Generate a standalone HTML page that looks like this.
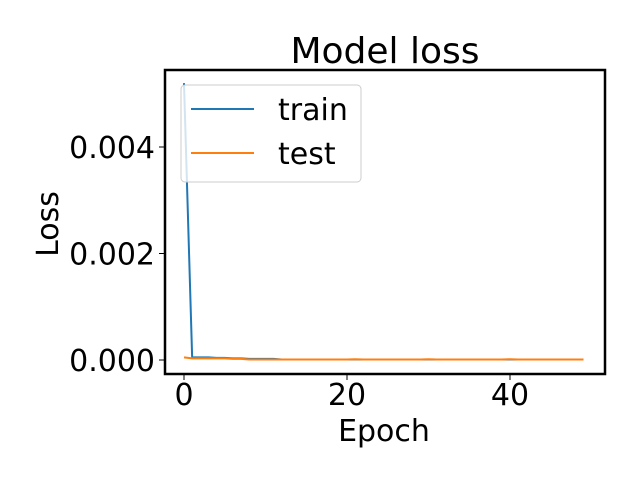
<!DOCTYPE html>
<html><head><meta charset="utf-8"><style>
body{margin:0;background:#fff}
svg text{font-family:"DejaVu Sans","Liberation Sans",sans-serif;fill:#000}
</style></head><body>
<svg width="640" height="480" xmlns="http://www.w3.org/2000/svg">
<rect width="640" height="480" fill="#fff"/>
<text x="385" y="63" font-size="36" text-anchor="middle">Model loss</text>
<g id="ticks"></g>
<g id="series"></g>
<rect x="165" y="70" width="440" height="304" fill="none" stroke="#000" stroke-width="2.5"/>
<text x="384" y="441" font-size="30" text-anchor="middle">Epoch</text>
<text x="0" y="0" font-size="30" text-anchor="middle" transform="translate(58,224) rotate(-90)">Loss</text>
<g>
<rect x="181" y="85" width="180" height="97" rx="4" fill="#fff" fill-opacity="0.8" stroke="#ccc"/>
<line x1="191" y1="109" x2="254" y2="109" stroke="#1f77b4" stroke-width="2"/>
<text x="278" y="120" font-size="30">train</text>
<line x1="191" y1="153" x2="254" y2="153" stroke="#ff7f0e" stroke-width="2"/>
<text x="278" y="164" font-size="30">test</text>
</g>
</svg>
<script>
const xTicks=[0,20,40];
const yTicks=[0,0.002,0.004];
const yTickLabels=["0.000","0.002","0.004"];
const trainLoss=[0.0052,0.00005,0.00005,0.00005,0.00004,0.00004,0.00003,0.00003,0.00002,0.00002,0.00002,0.00002,0.00001,0.00001,0.00001,0.00001,0.00001,0.00001,0.00001,0.00001,0.00001,0.00001,0.00001,0.00001,0.00001,0.00001,0.00001,0.00001,0.00001,0.00001,0.00001,0.00001,0.00001,0.00001,0.00001,0.00001,0.00001,0.00001,0.00001,0.00001,0.00001,0.00001,0.00001,0.00001,0.00001,0.00001,0.00001,0.00001,0.00001,0.00001];
const testLoss=[0.00005,0.00003,0.00003,0.00003,0.00003,0.00003,0.00002,0.00002,0.00001,0.00001,0.00001,0.00001,0.00001,0.00001,0.00001,0.00001,0.00001,0.00001,0.00001,0.00001,0.00001,0.000015,0.00001,0.00001,0.00001,0.00001,0.00001,0.00001,0.00001,0.00001,0.000015,0.00001,0.00001,0.00001,0.00001,0.00001,0.00001,0.00001,0.00001,0.00001,0.000015,0.00001,0.00001,0.00001,0.00001,0.00001,0.00001,0.00001,0.00001,0.00001];
const NS="http://www.w3.org/2000/svg";
const xs=v=>184+v*8.15;
const ys=v=>360-v*53250;
const tg=document.getElementById('ticks');
xTicks.forEach(t=>{
 const l=document.createElementNS(NS,'line');
 l.setAttribute('x1',xs(t));l.setAttribute('x2',xs(t));l.setAttribute('y1',374);l.setAttribute('y2',380);l.setAttribute('stroke','#000');
 
 
 tg.appendChild(l);
 const tx=document.createElementNS(NS,'text');
 tx.setAttribute('x',xs(t));tx.setAttribute('y',405);tx.setAttribute('font-size','30');tx.setAttribute('text-anchor','middle');
 tx.textContent=t;
 
 
 tg.appendChild(tx);
});
yTicks.forEach((t,i)=>{
 const l=document.createElementNS(NS,'line');
 l.setAttribute('x1',159);l.setAttribute('x2',165);l.setAttribute('y1',ys(t));l.setAttribute('y2',ys(t));l.setAttribute('stroke','#000');
 
 
 tg.appendChild(l);
 const tx=document.createElementNS(NS,'text');
 tx.setAttribute('x',155);tx.setAttribute('y',ys(t)+11);tx.setAttribute('font-size','30');tx.setAttribute('text-anchor','end');
 tx.textContent=yTickLabels[i];
 
 
 tg.appendChild(tx);
});
const sg=document.getElementById('series');
[[trainLoss,'#1f77b4','train-line'],[testLoss,'#ff7f0e','test-line']].forEach(([d,c,n])=>{
 const p=document.createElementNS(NS,'polyline');
 p.setAttribute('points',d.map((v,i)=>xs(i)+','+ys(v)).join(' '));
 p.setAttribute('fill','none');p.setAttribute('stroke',c);p.setAttribute('stroke-width','2');
 
 
 sg.appendChild(p);
});
</script>
</body></html>
